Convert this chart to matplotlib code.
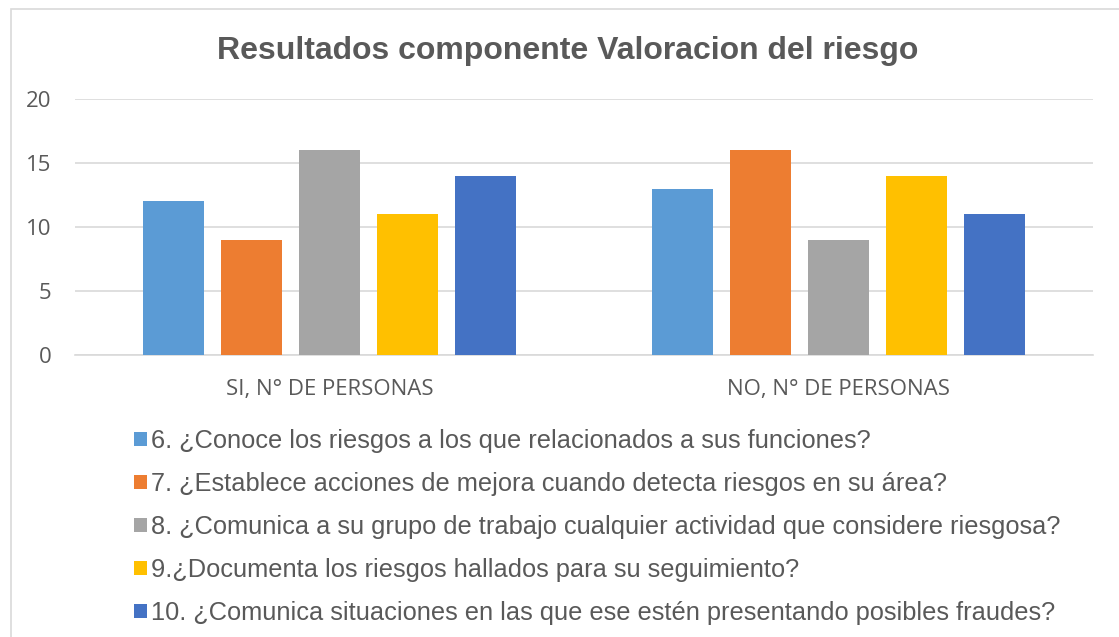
import matplotlib
matplotlib.use("Agg")
from matplotlib import pyplot as plt
from matplotlib.patches import Rectangle
import numpy as np

categories = ["SI, N° DE PERSONAS", "NO, N° DE PERSONAS"]
series = [
    "6. ¿Conoce los riesgos a los que relacionados a sus funciones?",
    "7. ¿Establece acciones de mejora cuando detecta riesgos en su área?",
    "8. ¿Comunica a su grupo de trabajo cualquier actividad que considere riesgosa?",
    "9.¿Documenta los riesgos hallados para su seguimiento?",
    "10. ¿Comunica situaciones en las que ese estén presentando posibles fraudes?",
]
q6 = [12, 13]
q7 = [9, 16]
q8 = [16, 9]
q9 = [11, 14]
q10 = [14, 11]
values = [q6, q7, q8, q9, q10]
colors = ["#5B9BD5", "#ED7D31", "#A5A5A5", "#FFC000", "#4472C4"]

txt = "#595959"
W, H = 1119, 637
fig = plt.figure(figsize=(W / 100, H / 100), dpi=100)

# chart border
fig.patches.append(Rectangle((11 / W, -0.1), 1.2, 1 - 9 / H + 0.1, transform=fig.transFigure,
                             fill=False, edgecolor="#D9D9D9", linewidth=1.2))

ax = fig.add_axes([75 / W, 1 - 355 / H, (1093 - 75) / W, (355 - 99) / H])
x = np.arange(len(categories))
step = 0.153
width = 0.12
handles = []
for i, (vals, col) in enumerate(zip(values, colors)):
    b = ax.bar(x + (i - 2) * step, vals, width, color=col, label=series[i], zorder=3)
    handles.append(b)

ax.set_xlim(-0.5, 1.5)
ax.set_ylim(0, 20)
ax.set_yticks([0, 5, 10, 15, 20])
ax.set_xticks(x)
ax.set_xticklabels(categories)
ax.yaxis.grid(True, color="#D9D9D9", linewidth=1.2, zorder=0)
for s in ["top", "right", "left"]:
    ax.spines[s].set_visible(False)
ax.spines["bottom"].set_color("#D9D9D9")
ax.spines["bottom"].set_linewidth(1.2)
ax.tick_params(axis="both", length=0, labelcolor=txt, labelsize=16)
ax.tick_params(axis="x", pad=17)
ax.tick_params(axis="y", pad=17)
for lab in ax.get_xticklabels() + ax.get_yticklabels():
    lab.set_family("Open Sans")

fig.text(568 / W, 1 - 51 / H, "Resultados componente Valoracion del riesgo",
         ha="center", va="center", fontsize=23, fontweight="bold", color=txt,
         family="Liberation Sans")

leg = fig.legend(handles=handles, loc="upper left", bbox_to_anchor=(134 / W, 1 - 429 / H),
                 frameon=False, ncol=1, prop={"family": "Liberation Sans", "size": 18.3},
                 handlelength=0.5, handleheight=0.5, handletextpad=0.15,
                 labelspacing=0.75, borderpad=0, borderaxespad=0)
for t in leg.get_texts():
    t.set_color(txt)

fig.savefig("out.png", dpi=100)
